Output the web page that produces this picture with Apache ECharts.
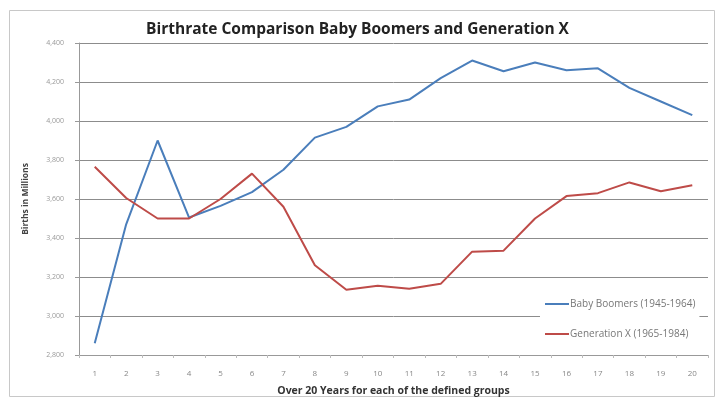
<!DOCTYPE html>
<html>
<head>
<meta charset="utf-8">
<script src="https://cdn.jsdelivr.net/npm/echarts@6/dist/echarts.min.js"></script>
<style>html,body{margin:0;padding:0;background:#fff;}#c{width:715px;height:397px;}</style>
</head>
<body>
<div id="c"></div>
<script>
const categories = ['1','2','3','4','5','6','7','8','9','10','11','12','13','14','15','16','17','18','19','20'];
const babyBoomers = [2860, 3470, 3900, 3505, 3565, 3635, 3750, 3915, 3970, 4075, 4110, 4220, 4310, 4255, 4300, 4260, 4270, 4170, 4100, 4030];
const generationX = [3765, 3605, 3500, 3500, 3600, 3730, 3560, 3260, 3135, 3155, 3140, 3165, 3330, 3335, 3500, 3615, 3630, 3685, 3640, 3670];
const seriesNames = ['Baby Boomers (1945-1964)', 'Generation X (1965-1984)'];
const yMin = 2800, yMax = 4400, yStep = 200;

const chart = echarts.init(document.getElementById('c'), null, {renderer: 'canvas'});
chart.setOption({
  animation: false,
  backgroundColor: '#fff',
  textStyle: {fontFamily: 'Open Sans'},
  title: {
    text: 'Birthrate Comparison Baby Boomers and Generation X',
    left: 'center', top: 17,
    textStyle: {fontSize: 15.5, fontWeight: 'bold', color: '#222', fontFamily: 'Open Sans'}
  },
  graphic: [{
    type: 'rect', left: 7, top: 8, z: -1,
    shape: {width: 705, height: 386},
    style: {fill: 'none', stroke: '#c8c8c8', lineWidth: 1}
  }],
  grid: {left: 79, right: 7, top: 43, bottom: 42, containLabel: false, outerBoundsMode: 'none'},
  legend: {
    orient: 'vertical',
    left: 540, top: 291,
    padding: [8, 4, 10, 5],
    itemGap: 20,
    itemWidth: 24, itemHeight: 2,
    icon: 'rect',
    backgroundColor: '#fff',
    textStyle: {fontSize: 10, color: '#777', padding: [0, 0, 0, -4]},
    data: seriesNames
  },
  xAxis: {
    type: 'category',
    data: categories,
    boundaryGap: true,
    name: 'Over 20 Years for each of the defined groups',
    nameLocation: 'middle',
    nameGap: 31,
    nameTextStyle: {fontSize: 10.5, fontWeight: 'bold', color: '#333'},
    axisLine: {lineStyle: {color: '#999'}},
    axisTick: {show: true, length: 3, lineStyle: {color: '#bbb'}},
    axisLabel: {fontSize: 8, color: '#888', margin: 15}
  },
  yAxis: {
    type: 'value',
    min: yMin, max: yMax, interval: yStep,
    name: 'Births in Millions',
    nameLocation: 'middle',
    nameRotate: 90,
    nameGap: 49,
    nameTextStyle: {fontSize: 8.5, fontWeight: 'bold', color: '#444'},
    axisLine: {show: true, lineStyle: {color: '#999'}},
    axisTick: {show: true, length: 4, lineStyle: {color: '#999'}},
    axisLabel: {fontSize: 7, color: '#999', margin: 15,
      formatter: v => v.toLocaleString('en-US')},
    splitLine: {lineStyle: {color: '#8c8c8c', width: 1}}
  },
  series: [
    {name: seriesNames[0], type: 'line', data: babyBoomers, symbol: 'none',
     lineStyle: {color: '#4a7ebb', width: 2}, itemStyle: {color: '#4a7ebb'}},
    {name: seriesNames[1], type: 'line', data: generationX, symbol: 'none',
     lineStyle: {color: '#be4b48', width: 2}, itemStyle: {color: '#be4b48'}}
  ]
});
</script>
</body>
</html>
